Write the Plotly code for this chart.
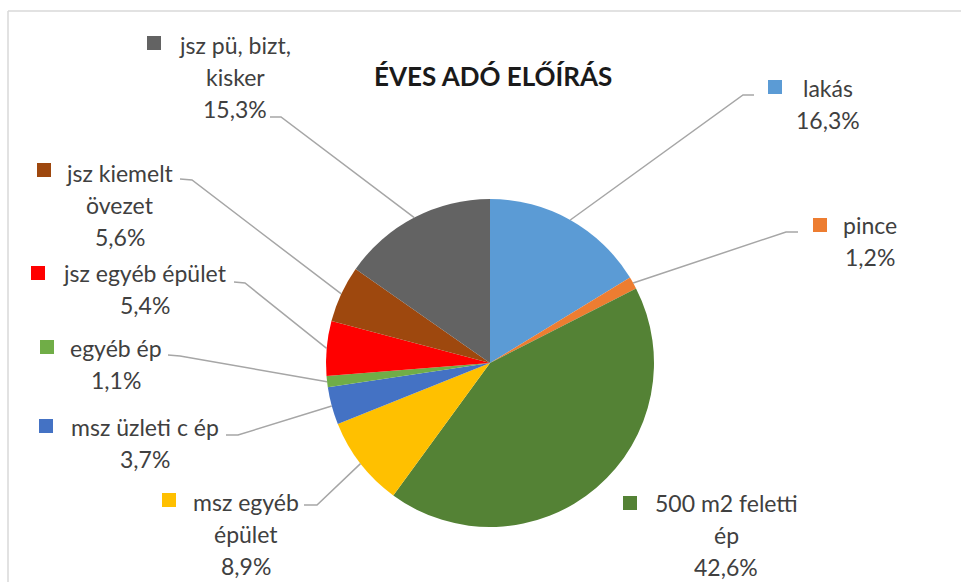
import math
import plotly.graph_objects as go

# ---------------- data ----------------
categories = ["lakás", "pince", "500 m2 feletti ép", "msz egyéb épület",
              "msz üzleti c ép", "egyéb ép", "jsz egyéb épület",
              "jsz kiemelt övezet", "jsz pü, bizt, kisker"]
values = [16.3, 1.2, 42.6, 8.9, 3.7, 1.1, 5.4, 5.6, 15.3]
label_lines = [["lakás"], ["pince"], ["500 m2 feletti", "ép"], ["msz egyéb", "épület"],
               ["msz üzleti c ép"], ["egyéb ép"], ["jsz egyéb épület"],
               ["jsz kiemelt", "övezet"], ["jsz pü, bizt,", "kisker"]]
colors = ["#5B9BD5", "#ED7D31", "#548235", "#FFC000", "#4472C4",
          "#70AD47", "#FF0000", "#9E480E", "#636363"]
title_text = "ÉVES ADÓ ELŐÍRÁS"

# ---------------- layout (pixels) ----------------
W, H = 961, 582
CX, CY, R = 490, 363, 164
LINE_H = 32
FONT = "Lato"
FS = 23

# per label: text centre x, first line centre y, square centre (x,y),
# leader anchor at label (x,y), elbow (x,y)
label_layout = [
    dict(tx=828, ty=88, sq=(775, 87), anchor=(754, 95), elbow=(743, 95)),
    dict(tx=870, ty=225, sq=(820, 225), anchor=(798, 232), elbow=(786, 232)),
    dict(tx=726, ty=503, sq=(630, 503), anchor=None, elbow=None),
    dict(tx=246, ty=502, sq=(169, 500), anchor=(304, 505), elbow=(317, 505)),
    dict(tx=145, ty=427, sq=(46, 426), anchor=(226, 435), elbow=(238, 435)),
    dict(tx=116, ty=348, sq=(47, 347), anchor=(168, 355), elbow=(180, 356)),
    dict(tx=145, ty=273, sq=(38, 273), anchor=(234, 282), elbow=(245, 283)),
    dict(tx=120, ty=173, sq=(44, 170), anchor=(180, 179), elbow=(192, 180)),
    dict(tx=235, ty=45, sq=(154, 43), anchor=(270, 117), elbow=(281, 117)),
]


def px(x):
    return x / W


def py(y):
    return 1 - y / H


fig = go.Figure()
fig.add_trace(go.Pie(
    labels=categories, values=values, sort=False, direction="clockwise",
    rotation=0, textinfo="none", hoverinfo="label+percent",
    marker=dict(colors=colors, line=dict(width=0)),
    domain=dict(x=[px(CX - R), px(CX + R)], y=[py(CY + R), py(CY - R)]),
    showlegend=False,
))

shapes = []
annotations = []

# chart frame
shapes.append(dict(type="line", xref="paper", yref="paper", x0=px(8), x1=1.0,
                   y0=py(11), y1=py(11), line=dict(color="#D9D9D9", width=1.5)))
shapes.append(dict(type="line", xref="paper", yref="paper", x0=px(8), x1=px(8),
                   y0=py(11), y1=0, line=dict(color="#D9D9D9", width=1.5)))

total = sum(values)
cum = 0.0
for i, v in enumerate(values):
    frac_mid = (cum + v / 2) / total
    cum += v
    ang = 2 * math.pi * frac_mid
    ex, ey = CX + R * math.sin(ang), CY - R * math.cos(ang)
    L = label_layout[i]
    pct = f"{v:.1f}".replace(".", ",") + "%"
    lines = label_lines[i] + [pct]
    for k, t in enumerate(lines):
        annotations.append(dict(
            x=px(L["tx"]), y=py(L["ty"] + k * LINE_H), xref="paper", yref="paper",
            text=t, showarrow=False, xanchor="center", yanchor="middle",
            font=dict(family=FONT, size=FS, color="#404040")))
    sx, sy = L["sq"]
    shapes.append(dict(type="rect", xref="paper", yref="paper",
                       x0=px(sx - 7), x1=px(sx + 7), y0=py(sy + 7), y1=py(sy - 7),
                       fillcolor=colors[i], line=dict(width=0)))
    if L["anchor"] is not None:
        ax, ay = L["anchor"]
        bx, by = L["elbow"]
        path = (f"M {px(ax)} {py(ay)} L {px(bx)} {py(by)} L {px(ex)} {py(ey)}")
        shapes.append(dict(type="path", xref="paper", yref="paper", path=path,
                           line=dict(color="#A6A6A6", width=1.5)))

annotations.append(dict(
    x=px(493), y=py(76), xref="paper", yref="paper", text=f"<b>{title_text}</b>",
    showarrow=False, xanchor="center", yanchor="middle",
    font=dict(family=FONT, size=26, color="#1a1a1a")))

fig.update_layout(
    width=W, height=H, margin=dict(l=0, r=0, t=0, b=0),
    paper_bgcolor="white", plot_bgcolor="white",
    shapes=shapes, annotations=annotations,
)

fig.write_html("out.html", config={"displayModeBar": False},
               post_script="document.body.style.margin='0px';document.body.style.overflow='hidden';")
